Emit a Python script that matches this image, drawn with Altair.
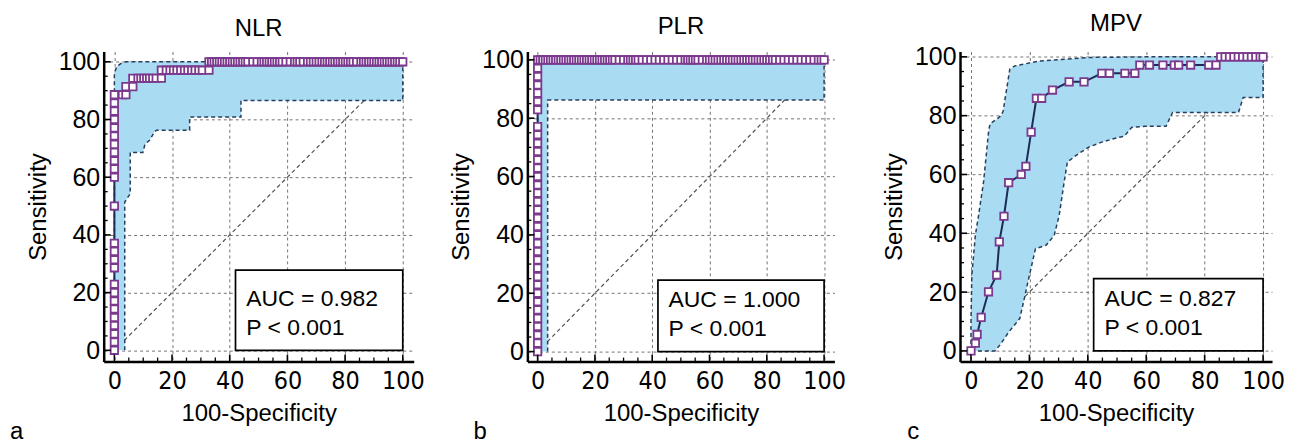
import altair as alt
import pandas as pd

# ---------------- data ----------------
# NLR ROC curve: squares on the x=0 column, the staircase, and the y=100 row
NLR_COL_Y = [0, 2.9, 5.7, 8.6, 11.4, 14.3, 17.1, 20.0, 22.9, 28.6, 31.4, 34.3, 37.1,
             50.0, 60.0, 62.9, 65.7, 68.6, 71.4, 74.3, 77.1, 80.0, 82.9, 85.7, 88.6]
NLR_STEPS = [(2.8, 88.6), (4.0, 88.6), (4.0, 91.4), (6.4, 91.4), (6.4, 94.3), (8.2, 94.3),
             (9.2, 94.3), (10.2, 94.3), (11.2, 94.3), (12.2, 94.3), (13.3, 94.3), (14.5, 94.3),
             (16.3, 94.3), (16.3, 97.1), (18.0, 97.1), (19.3, 97.1), (20.5, 97.1), (21.7, 97.1),
             (23.0, 97.1), (24.3, 97.1), (25.5, 97.1), (26.8, 97.1), (28.0, 97.1), (29.3, 97.1),
             (30.5, 97.1), (32.8, 97.1)]
NLR_TOP_X = [32.8, 33.7, 34.6, 35.5, 36.4, 37.3, 38.2, 39.1, 40.0, 40.9, 41.8, 42.7, 43.6,
             44.5, 45.4, 46.3, 48.0, 49.5, 51.0, 51.9, 52.8, 53.7, 54.6, 55.5, 56.4, 57.3,
             58.2, 59.5, 61.0, 62.5, 63.4, 64.3, 65.5, 67.0, 68.0, 69.0, 70.0, 71.0, 72.0,
             72.9, 73.8, 74.7, 75.6, 76.5, 77.4, 78.3, 79.2, 80.1, 81.0, 81.9, 82.8, 84.0,
             85.5, 86.4, 87.3, 88.2, 89.1, 90.0, 90.9, 91.8, 92.7, 93.6, 94.5, 95.4, 96.3,
             97.2, 98.1, 99.0, 100.0]
NLR_CI_LOW = [(3.6, 0), (3.6, 51.4), (5.5, 54.3), (5.5, 68.6), (9.9, 68.6), (10.6, 71.4),
              (12.2, 72.8), (13.9, 75.7), (14.6, 76.3), (26.1, 76.3), (26.1, 80.9),
              (43.9, 80.9), (43.9, 86.6), (100, 86.6), (100, 100)]
NLR_CI_UP = [(0, 0), (0, 96.0), (0.8, 98.3), (2.2, 99.4), (4.0, 100), (100, 100)]

# PLR ROC curve
PLR_COL_Y = [0, 2.9, 5.7, 8.6, 11.4, 14.3, 17.1, 20.0, 22.9, 25.7, 28.6, 31.4, 34.3, 37.1,
             40.0, 42.9, 45.7, 48.6, 51.4, 54.3, 57.1, 60.0, 62.9, 65.7, 68.6, 71.4, 74.3,
             77.1, 82.9, 85.7, 88.6, 91.4, 94.3, 97.1, 100.0]
PLR_TOP_X = [0.9, 1.8, 2.7, 3.6, 4.5, 5.4, 6.3, 7.2, 8.1, 9.0, 9.9, 10.8, 11.7, 12.6, 13.5,
             14.4, 15.3, 16.2, 17.1, 18.0, 18.9, 19.8, 20.7, 21.6, 22.5, 23.4, 24.3, 25.2,
             26.1, 27.0, 28.5, 30.0, 31.5, 32.4, 33.3, 34.2, 35.1, 36.5, 38.0, 39.5, 41.0,
             42.5, 44.0, 45.5, 47.0, 48.5, 50.0, 51.5, 52.4, 53.3, 54.2, 55.1, 56.0, 57.5,
             59.0, 60.0, 61.0, 62.0, 63.0, 64.0, 65.0, 66.0, 67.0, 68.0, 69.0, 70.0, 71.0,
             72.0, 73.0, 74.0, 75.0, 76.0, 77.0, 78.0, 79.0, 80.0, 81.0, 82.0, 83.0, 84.5,
             86.0, 87.5, 89.0, 90.5, 92.0, 93.5, 95.0, 96.5, 98.0, 99.0, 100.0]
PLR_CI_LOW = [(3.5, 0), (3.5, 86.2), (100, 86.2), (100, 100)]
PLR_CI_UP = [(0, 0), (0, 100), (100, 100)]

# MPV ROC curve
MPV_ROC = [(0, 0), (1.5, 2.6), (2.1, 5.6), (3.5, 11.4), (6.0, 20.1), (8.8, 25.8), (9.7, 37.1),
           (11.3, 45.8), (12.9, 57.2), (17.2, 60.0), (18.8, 62.8), (20.6, 74.4), (22.4, 85.9),
           (24.2, 85.9), (27.9, 88.7), (33.6, 91.5), (38.7, 91.5), (44.8, 94.4), (47.4, 94.4),
           (52.7, 94.4), (56.1, 94.4), (57.8, 97.2), (61.1, 97.2), (65.7, 97.2), (69.6, 97.2),
           (71.1, 97.2), (75.2, 97.2), (81.4, 97.2), (83.9, 97.2), (85.5, 100), (87.0, 100),
           (88.5, 100), (90.0, 100), (91.5, 100), (93.0, 100), (94.5, 100), (96.0, 100),
           (97.5, 100), (99.0, 100), (100, 100)]
MPV_CI_LOW = [(0, 0), (8.2, 0), (9.9, 2.0), (13.0, 6.5), (16.7, 11.0), (18.4, 18.4),
              (19.5, 23.5), (22.1, 34.8), (25.7, 35.9), (28.5, 39.3), (30.2, 46.1),
              (31.9, 57.4), (33.0, 64.2), (36.0, 66.5), (40.3, 69.3), (44.8, 71.0),
              (50.0, 72.5), (52.5, 73.0), (55.0, 76.0), (59.5, 76.4), (66.8, 76.4),
              (69.0, 81.1), (91.6, 81.1), (93.2, 86.2), (100, 86.2), (100, 100)]
MPV_CI_UP = [(0, 0), (0, 10.0), (0.3, 25.8), (1.5, 39.3), (2.6, 46.1), (4.3, 57.4),
             (6.0, 74.3), (6.5, 77.2), (8.8, 78.8), (10.3, 80.0), (11.0, 81.5), (13.3, 95.8),
             (15.0, 96.9), (23.4, 98.6), (40.3, 99.8), (60.0, 100), (100, 100)]

TITLES = ["NLR", "PLR", "MPV"]
LETTERS = ["a", "b", "c"]
AUC_LABELS = ["AUC = 0.982", "AUC = 1.000", "AUC = 0.827"]
P_LABEL = "P < 0.001"
BOX_TOP = [27.8, 24.5, 24.6]
DIAG = [(0, 0), (100, 100)]
MAJOR_TICKS = [0, 20, 40, 60, 80, 100]
MINOR_TICKS = [5, 10, 15, 25, 30, 35, 45, 50, 55, 65, 70, 75, 85, 90, 95]

# ---------------- style ----------------
FONT = "Liberation Sans, Arial, sans-serif"
NARROW = "Liberation Sans Narrow, Arial Narrow, DejaVu Sans Condensed, Liberation Sans, sans-serif"
BAND = "#a9dbf3"
CI_COL = "#283f5c"
LINE_COL = "#1d2b57"
MARK_COL = "#7b3a8d"


def pts_df(points):
    return pd.DataFrame({"x": [p[0] for p in points], "y": [p[1] for p in points],
                         "i": list(range(len(points)))})


def panel(title, letter, roc, lo, up, auc, box_top, xdom, ydom, w, h, letter_x):
    xs = alt.Scale(domain=xdom, nice=False, zero=False)
    ys = alt.Scale(domain=ydom, nice=False, zero=False)
    xaxis = alt.Axis(values=MAJOR_TICKS, title="100-Specificity", grid=True,
                     gridDash=[3, 3], gridColor="#737373", gridWidth=1, ticks=False,
                     tickSize=0, domainColor="black", domainWidth=2.5, labelFont=NARROW,
                     labelFontSize=25, labelColor="black", labelPadding=7, labelFlush=False,
                     titleFont=FONT, titleFontSize=24, titleFontWeight="normal",
                     titleColor="black", titlePadding=8)
    yaxis = alt.Axis(values=MAJOR_TICKS, title="Sensitivity", grid=True,
                     gridDash=[3, 3], gridColor="#737373", gridWidth=1, ticks=False,
                     tickSize=0, domainColor="black", domainWidth=2.5, labelFont=FONT,
                     labelFontSize=25, labelColor="black", labelPadding=4, labelFlush=False,
                     titleFont=FONT, titleFontSize=24, titleFontWeight="normal",
                     titleColor="black", titlePadding=8)

    def ex(f="x"):
        return alt.X(f"{f}:Q", scale=xs, axis=xaxis)

    def ey(f="y"):
        return alt.Y(f"{f}:Q", scale=ys, axis=yaxis)

    diag = alt.Chart(pts_df(DIAG)).mark_line(
        color="#505050", strokeDash=[4, 3], strokeWidth=1.2).encode(x=ex(), y=ey())

    band = alt.Chart(pts_df(lo + up[::-1])).mark_line(
        fill=BAND, strokeWidth=0).encode(x=ex(), y=ey(), order="i:Q")

    ci_df = pd.concat([pts_df(lo).assign(part="low"), pts_df(up).assign(part="up")])
    ci = alt.Chart(ci_df).mark_line(color=CI_COL, strokeDash=[4, 3], strokeWidth=1.5).encode(
        x=ex(), y=ey(), detail="part:N", order="i:Q")

    box = alt.Chart(pd.DataFrame({"x": [42], "x2": [100], "y": [0], "y2": [box_top]})).mark_rect(
        fill="white", stroke="black", strokeWidth=1.7).encode(
        x=ex(), x2="x2:Q", y=ey(), y2="y2:Q")

    txt = alt.Chart(pd.DataFrame({"x": [45.7, 45.7], "y": [15.2, 5.4],
                                  "t": [auc, P_LABEL]})).mark_text(
        align="left", baseline="alphabetic", font=FONT, fontSize=23, color="black").encode(
        x=ex(), y=ey(), text="t:N")

    rdf = pts_df(roc)
    line = alt.Chart(rdf).mark_line(color=LINE_COL, strokeWidth=2).encode(
        x=ex(), y=ey(), order="i:Q")
    marks = alt.Chart(rdf).mark_point(shape="square", filled=True, fill="white",
                                      stroke=MARK_COL, strokeWidth=1.8, size=55,
                                      opacity=1).encode(x=ex(), y=ey())

    maj = pd.DataFrame({"v": MAJOR_TICKS})
    mnr = pd.DataFrame({"v": MINOR_TICKS})
    yt1 = alt.Chart(maj).mark_rule(color="black", strokeWidth=1.6).encode(
        y=ey("v"), x=alt.value(0), x2=alt.value(7))
    yt2 = alt.Chart(mnr).mark_rule(color="black", strokeWidth=1.3).encode(
        y=ey("v"), x=alt.value(0), x2=alt.value(4))
    xt1 = alt.Chart(maj).mark_rule(color="black", strokeWidth=1.6).encode(
        x=ex("v"), y=alt.value(h), y2=alt.value(h - 7))
    xt2 = alt.Chart(mnr).mark_rule(color="black", strokeWidth=1.3).encode(
        x=ex("v"), y=alt.value(h), y2=alt.value(h - 4))

    let = alt.Chart(pd.DataFrame({"t": [letter]})).mark_text(
        align="left", baseline="alphabetic", font=FONT, fontSize=24, color="black").encode(
        text="t:N", x=alt.value(letter_x), y=alt.value(389))

    return alt.layer(diag, band, ci, box, txt, line, marks, yt1, yt2, xt1, xt2, let).properties(
        width=w, height=h,
        title=alt.TitleParams(title, font=FONT, fontSize=24, fontWeight="normal",
                              color="black", offset=9))


def col_points(col_y, steps, top_x):
    return [(0, v) for v in col_y] + steps + [(v, 100) for v in top_x]


pa = panel(TITLES[0], LETTERS[0], col_points(NLR_COL_Y, NLR_STEPS, NLR_TOP_X),
           NLR_CI_LOW, NLR_CI_UP, AUC_LABELS[0], BOX_TOP[0],
           [-3.7, 103.8], [-3.9, 103.56], 311, 311, -94)
pb = panel(TITLES[1], LETTERS[1], col_points(PLR_COL_Y, [], PLR_TOP_X),
           PLR_CI_LOW, PLR_CI_UP, AUC_LABELS[1], BOX_TOP[1],
           [-3.58, 103.6], [-3.42, 102.84], 308, 311, -54)
pc = panel(TITLES[2], LETTERS[2], MPV_ROC,
           MPV_CI_LOW, MPV_CI_UP, AUC_LABELS[2], BOX_TOP[2],
           [-3.75, 103.07], [-3.63, 101.8], 313, 311, -53)

chart = alt.hconcat(pa, alt.hconcat(pb, pc, spacing=126, bounds="flush"),
                    spacing=114, bounds="flush").properties(
    padding={"left": 2, "top": 3, "right": 0, "bottom": 0}
).configure_view(stroke=None)

chart.save("out.html", embed_options={"renderer": "svg", "actions": False})
